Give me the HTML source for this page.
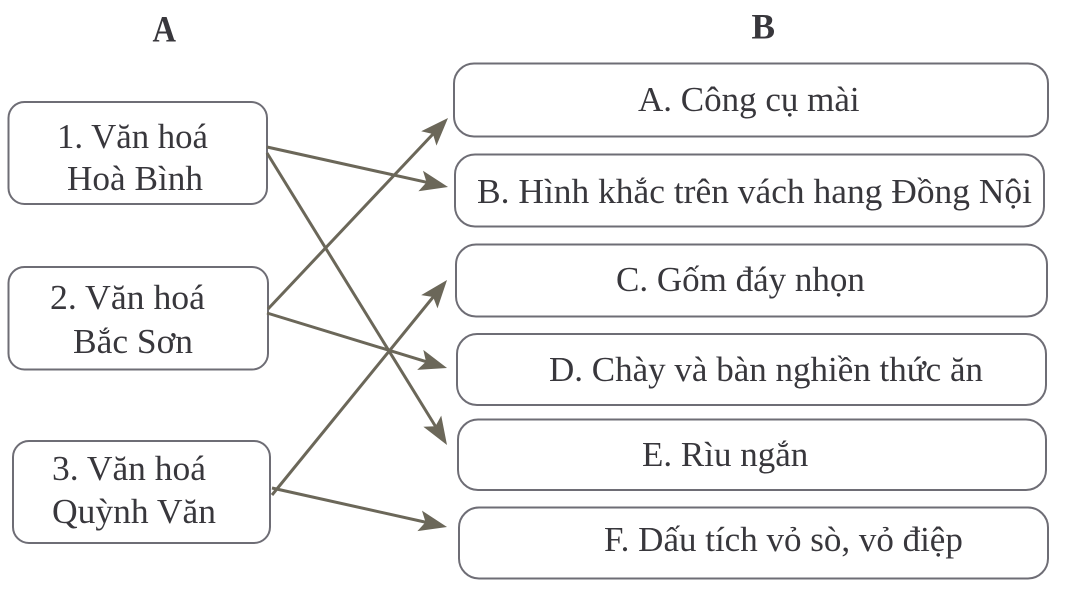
<!DOCTYPE html>
<html>
<head>
<meta charset="utf-8">
<style>
  html, body { margin:0; padding:0; background:#fff; }
  svg { display:block; }
  text { font-family: "Liberation Serif", "DejaVu Serif", serif; fill:#38373c; }
</style>
</head>
<body>
<svg width="1074" height="590" viewBox="0 0 1074 590" xmlns="http://www.w3.org/2000/svg">
  <defs>
    <marker id="ah" markerUnits="userSpaceOnUse" orient="auto" refX="0" refY="0" markerWidth="60" markerHeight="40" viewBox="-30 -20 60 40" overflow="visible">
      <path d="M20,0 L-8,-10.5 L-2,0 L-8,10.5 Z" fill="#6b6759"/>
    </marker>
  </defs>

  <!-- Titles -->
  <text x="152.5" y="41.5" font-size="37" font-weight="bold" textLength="23.5" lengthAdjust="spacingAndGlyphs">A</text>
  <text x="751.5" y="38.3" font-size="36" font-weight="bold" textLength="23.5" lengthAdjust="spacingAndGlyphs">B</text>

  <!-- Left boxes -->
  <g fill="none" stroke="#6e6d75" stroke-width="2">
    <rect x="8.5" y="102" width="258.5" height="102" rx="16" ry="16"/>
    <rect x="8.5" y="267" width="259.5" height="102.5" rx="16" ry="16"/>
    <rect x="13" y="441" width="257" height="102" rx="16" ry="16"/>
  </g>

  <!-- Right boxes -->
  <g fill="none" stroke="#6e6d75" stroke-width="2">
    <rect x="454" y="63.5" width="594" height="73" rx="20" ry="20"/>
    <rect x="455" y="154.5" width="589" height="72" rx="20" ry="20"/>
    <rect x="456" y="244.5" width="591" height="72" rx="20" ry="20"/>
    <rect x="457" y="334" width="589" height="71" rx="20" ry="20"/>
    <rect x="458" y="419.5" width="588" height="70.5" rx="20" ry="20"/>
    <rect x="459" y="507.5" width="589" height="71" rx="20" ry="20"/>
  </g>

  <!-- Left text -->
  <g font-size="35">
    <text x="57" y="148" textLength="151" lengthAdjust="spacingAndGlyphs">1. Văn hoá</text>
    <text x="67" y="190" textLength="136" lengthAdjust="spacingAndGlyphs">Hoà Bình</text>
    <text x="50" y="309" textLength="155" lengthAdjust="spacingAndGlyphs">2. Văn hoá</text>
    <text x="73" y="353" textLength="120" lengthAdjust="spacingAndGlyphs">Bắc Sơn</text>
    <text x="52" y="480" textLength="154" lengthAdjust="spacingAndGlyphs">3. Văn hoá</text>
    <text x="52" y="523" textLength="164" lengthAdjust="spacingAndGlyphs">Quỳnh Văn</text>
  </g>

  <!-- Right text -->
  <g font-size="35">
    <text x="638" y="111">A. Công cụ mài</text>
    <text x="477" y="203" textLength="555" lengthAdjust="spacingAndGlyphs">B. Hình khắc trên vách hang Đồng Nội</text>
    <text x="616" y="291">C. Gốm đáy nhọn</text>
    <text x="549" y="381">D. Chày và bàn nghiền thức ăn</text>
    <text x="642" y="466">E. Rìu ngắn</text>
    <text x="604" y="551">F. Dấu tích vỏ sò, vỏ điệp</text>
  </g>

  <!-- Arrows -->
  <g stroke="#6b6759" stroke-width="3" fill="none" stroke-linecap="butt" marker-end="url(#ah)">
    <line x1="267" y1="147" x2="428.5" y2="182.7"/>
    <line x1="267" y1="153" x2="436.5" y2="428"/>
    <line x1="268" y1="309" x2="434.3" y2="132.6"/>
    <line x1="267" y1="313" x2="427.9" y2="362.2"/>
    <line x1="272" y1="495" x2="434.4" y2="295.5"/>
    <line x1="272" y1="488" x2="427.5" y2="522.6"/>
  </g>
</svg>
</body>
</html>
